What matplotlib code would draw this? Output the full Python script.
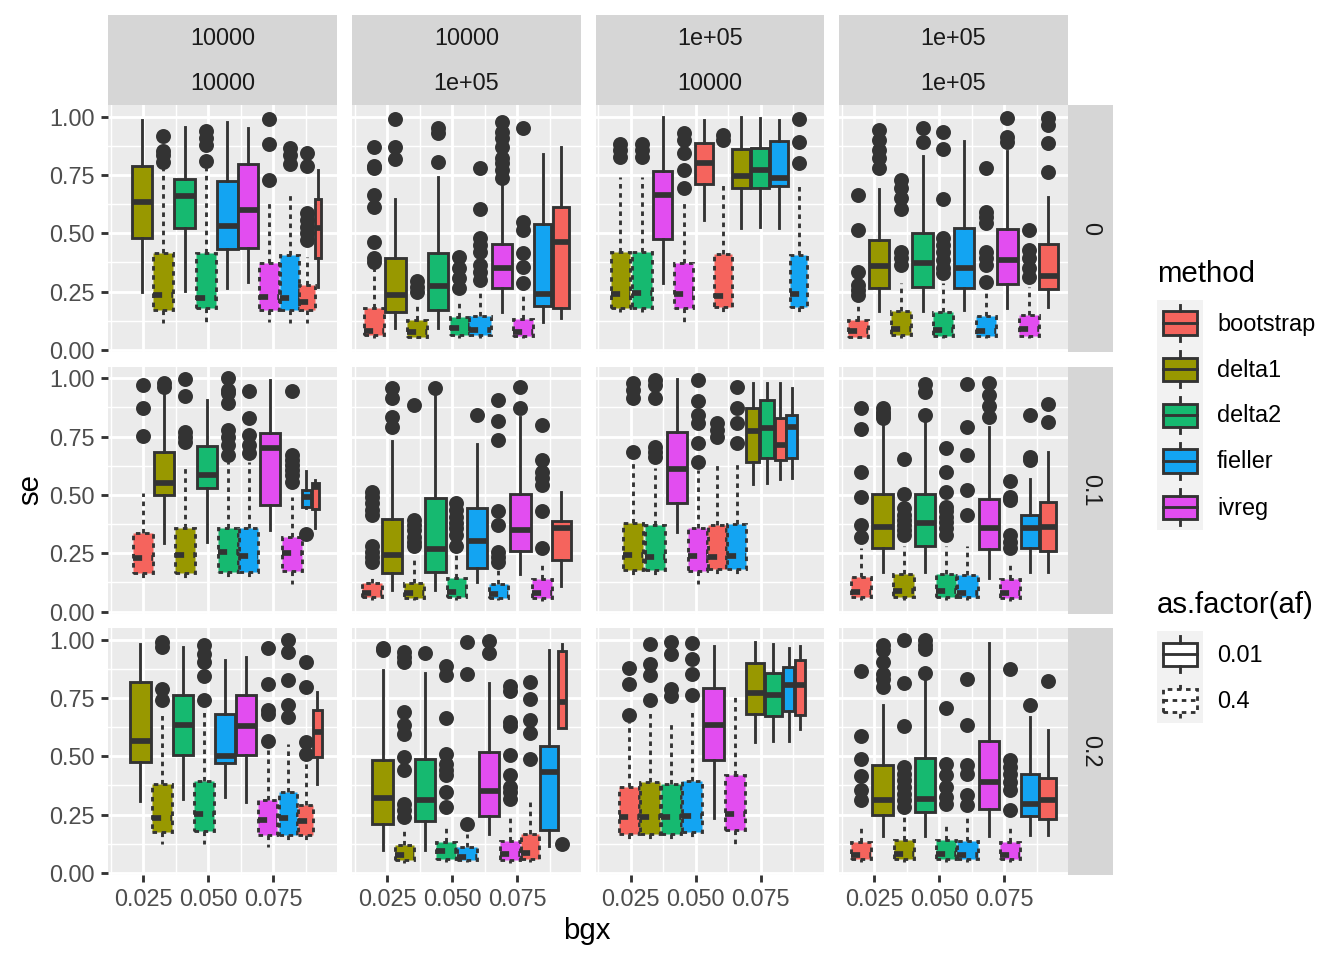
import matplotlib
matplotlib.use('Agg')
import matplotlib.pyplot as plt
from matplotlib.patches import Rectangle

plt.rcParams['font.family'] = ['Liberation Sans', 'DejaVu Sans']

# ---- data ----
methods = ['bootstrap', 'delta1', 'delta2', 'fieller', 'ivreg']
fills = ['#F5645D', '#989800', '#16B970', '#13A4F2', '#E24DF0']
af_labels = ['0.01', '0.4']
col_top = ['10000', '10000', '1e+05', '1e+05']
col_bottom = ['10000', '1e+05', '10000', '1e+05']
row_labels = ['0', '0.1', '0.2']
x_ticks = [0.025, 0.050, 0.075]
y_ticks = [0.0, 0.25, 0.50, 0.75, 1.00]

# one sub-list per panel (row-major), one entry per box
box_method = [
    [1, 1, 2, 2, 3, 4, 4, 3, 0, 0],
    [0, 1, 1, 2, 2, 3, 4, 4, 3, 0],
    [1, 2, 4, 4, 0, 0, 1, 2, 3, 3],
    [0, 1, 1, 2, 2, 3, 3, 4, 4, 0],
    [0, 1, 1, 2, 2, 3, 4, 4, 3, 0],
    [0, 1, 1, 2, 2, 3, 3, 4, 4, 0],
    [1, 2, 4, 4, 0, 3, 1, 2, 0, 3],
    [0, 1, 1, 2, 2, 3, 4, 4, 3, 0],
    [1, 1, 2, 2, 3, 4, 4, 3, 0, 0],
    [1, 1, 2, 2, 3, 4, 4, 0, 3, 0],
    [0, 1, 2, 3, 4, 4, 1, 2, 3, 0],
    [0, 1, 1, 2, 2, 3, 4, 4, 3, 0],
]
box_af = [
    [0, 1, 0, 1, 0, 0, 1, 1, 1, 0],
    [1, 0, 1, 0, 1, 1, 0, 1, 0, 0],
    [1, 1, 0, 1, 0, 1, 0, 0, 0, 1],
    [1, 0, 1, 0, 1, 0, 1, 0, 1, 0],
    [1, 0, 1, 0, 1, 1, 0, 1, 0, 0],
    [1, 0, 1, 0, 1, 0, 1, 0, 1, 0],
    [1, 1, 0, 1, 1, 1, 0, 0, 0, 0],
    [1, 0, 1, 0, 1, 1, 0, 1, 0, 0],
    [0, 1, 0, 1, 0, 0, 1, 1, 1, 0],
    [0, 1, 0, 1, 1, 0, 1, 1, 0, 0],
    [1, 1, 1, 1, 0, 1, 0, 0, 0, 0],
    [1, 0, 1, 0, 1, 1, 0, 1, 0, 0],
]
box_x = [
    [0.0245, 0.0327, 0.0409, 0.0491, 0.0573, 0.0654, 0.0735, 0.0813, 0.0880, 0.0922],
    [0.0199, 0.0281, 0.0364, 0.0445, 0.0527, 0.0607, 0.0691, 0.0772, 0.0848, 0.0918],
    [0.0210, 0.0291, 0.0373, 0.0454, 0.0531, 0.0605, 0.0674, 0.0747, 0.0821, 0.0896],
    [0.0188, 0.0269, 0.0353, 0.0435, 0.0515, 0.0596, 0.0679, 0.0762, 0.0844, 0.0920],
    [0.0247, 0.0330, 0.0410, 0.0494, 0.0577, 0.0655, 0.0738, 0.0821, 0.0878, 0.0912],
    [0.0190, 0.0269, 0.0353, 0.0435, 0.0515, 0.0596, 0.0678, 0.0762, 0.0844, 0.0920],
    [0.0260, 0.0343, 0.0426, 0.0508, 0.0583, 0.0657, 0.0719, 0.0774, 0.0826, 0.0870],
    [0.0199, 0.0281, 0.0362, 0.0445, 0.0526, 0.0607, 0.0691, 0.0772, 0.0848, 0.0918],
    [0.0238, 0.0321, 0.0403, 0.0485, 0.0565, 0.0647, 0.0729, 0.0807, 0.0875, 0.0920],
    [0.0233, 0.0315, 0.0396, 0.0478, 0.0558, 0.0642, 0.0724, 0.0800, 0.0872, 0.0923],
    [0.0244, 0.0323, 0.0405, 0.0486, 0.0569, 0.0651, 0.0728, 0.0799, 0.0857, 0.0900],
    [0.0199, 0.0281, 0.0364, 0.0445, 0.0526, 0.0607, 0.0691, 0.0772, 0.0848, 0.0917],
]
box_w = [
    [0.0079, 0.0077, 0.0079, 0.0077, 0.0079, 0.0077, 0.0077, 0.0071, 0.0060, 0.0023],
    [0.0077, 0.0079, 0.0079, 0.0079, 0.0074, 0.0081, 0.0079, 0.0077, 0.0068, 0.0062],
    [0.0073, 0.0077, 0.0074, 0.0074, 0.0067, 0.0067, 0.0067, 0.0071, 0.0071, 0.0068],
    [0.0077, 0.0077, 0.0077, 0.0079, 0.0077, 0.0077, 0.0077, 0.0079, 0.0077, 0.0071],
    [0.0077, 0.0078, 0.0077, 0.0077, 0.0077, 0.0074, 0.0079, 0.0077, 0.0033, 0.0028],
    [0.0077, 0.0077, 0.0077, 0.0079, 0.0073, 0.0077, 0.0074, 0.0079, 0.0077, 0.0071],
    [0.0077, 0.0078, 0.0077, 0.0074, 0.0069, 0.0071, 0.0049, 0.0054, 0.0041, 0.0042],
    [0.0077, 0.0079, 0.0078, 0.0079, 0.0077, 0.0081, 0.0079, 0.0077, 0.0068, 0.0062],
    [0.0079, 0.0077, 0.0079, 0.0077, 0.0079, 0.0077, 0.0074, 0.0071, 0.0058, 0.0032],
    [0.0081, 0.0074, 0.0079, 0.0077, 0.0077, 0.0079, 0.0077, 0.0067, 0.0071, 0.0031],
    [0.0077, 0.0077, 0.0079, 0.0079, 0.0079, 0.0077, 0.0071, 0.0068, 0.0042, 0.0038],
    [0.0077, 0.0079, 0.0079, 0.0079, 0.0077, 0.0081, 0.0079, 0.0077, 0.0068, 0.0064],
]
whis_lo = [
    [0.250, 0.114, 0.253, 0.114, 0.264, 0.290, 0.121, 0.114, 0.114, 0.271],
    [0.050, 0.093, 0.050, 0.093, 0.050, 0.050, 0.164, 0.050, 0.121, 0.136],
    [0.164, 0.164, 0.286, 0.114, 0.557, 0.164, 0.521, 0.529, 0.524, 0.164],
    [0.050, 0.167, 0.050, 0.167, 0.050, 0.171, 0.050, 0.179, 0.050, 0.186],
    [0.143, 0.293, 0.143, 0.297, 0.143, 0.143, 0.350, 0.119, 0.446, 0.357],
    [0.050, 0.093, 0.050, 0.093, 0.050, 0.126, 0.050, 0.160, 0.046, 0.111],
    [0.157, 0.157, 0.343, 0.119, 0.160, 0.157, 0.546, 0.550, 0.569, 0.571],
    [0.050, 0.169, 0.050, 0.169, 0.050, 0.050, 0.143, 0.046, 0.171, 0.171],
    [0.309, 0.123, 0.319, 0.126, 0.326, 0.304, 0.111, 0.140, 0.140, 0.383],
    [0.100, 0.043, 0.100, 0.047, 0.047, 0.166, 0.043, 0.047, 0.114, 0.623],
    [0.147, 0.147, 0.147, 0.147, 0.237, 0.119, 0.561, 0.566, 0.566, 0.619],
    [0.047, 0.157, 0.047, 0.157, 0.047, 0.047, 0.157, 0.047, 0.161, 0.161],
]
q1 = [
    [0.481, 0.171, 0.524, 0.179, 0.433, 0.436, 0.171, 0.171, 0.171, 0.393],
    [0.064, 0.164, 0.057, 0.171, 0.064, 0.064, 0.267, 0.061, 0.190, 0.181],
    [0.181, 0.181, 0.474, 0.179, 0.710, 0.183, 0.693, 0.693, 0.703, 0.183],
    [0.054, 0.264, 0.064, 0.271, 0.061, 0.264, 0.061, 0.283, 0.061, 0.260],
    [0.164, 0.500, 0.164, 0.529, 0.169, 0.169, 0.457, 0.174, 0.450, 0.440],
    [0.061, 0.164, 0.060, 0.169, 0.064, 0.186, 0.060, 0.260, 0.057, 0.221],
    [0.179, 0.179, 0.464, 0.176, 0.181, 0.181, 0.643, 0.660, 0.650, 0.660],
    [0.061, 0.274, 0.061, 0.279, 0.064, 0.061, 0.269, 0.057, 0.271, 0.261],
    [0.476, 0.176, 0.504, 0.180, 0.471, 0.507, 0.161, 0.161, 0.161, 0.497],
    [0.209, 0.054, 0.223, 0.061, 0.057, 0.243, 0.054, 0.061, 0.186, 0.623],
    [0.169, 0.169, 0.169, 0.176, 0.486, 0.183, 0.683, 0.671, 0.694, 0.679],
    [0.059, 0.250, 0.059, 0.261, 0.059, 0.059, 0.276, 0.059, 0.243, 0.233],
]
median = [
    [0.636, 0.236, 0.661, 0.224, 0.533, 0.600, 0.229, 0.221, 0.207, 0.521],
    [0.081, 0.236, 0.079, 0.274, 0.096, 0.086, 0.350, 0.079, 0.239, 0.464],
    [0.240, 0.243, 0.664, 0.239, 0.800, 0.233, 0.746, 0.771, 0.736, 0.240],
    [0.081, 0.361, 0.090, 0.371, 0.086, 0.350, 0.081, 0.386, 0.090, 0.319],
    [0.229, 0.550, 0.243, 0.586, 0.254, 0.239, 0.703, 0.250, 0.489, 0.536],
    [0.079, 0.243, 0.081, 0.267, 0.086, 0.303, 0.074, 0.350, 0.079, 0.357],
    [0.243, 0.236, 0.610, 0.239, 0.233, 0.239, 0.774, 0.786, 0.714, 0.793],
    [0.083, 0.361, 0.089, 0.379, 0.089, 0.081, 0.360, 0.081, 0.357, 0.364],
    [0.566, 0.236, 0.636, 0.251, 0.500, 0.629, 0.229, 0.236, 0.223, 0.604],
    [0.321, 0.076, 0.314, 0.093, 0.069, 0.351, 0.083, 0.086, 0.433, 0.733],
    [0.240, 0.240, 0.240, 0.244, 0.633, 0.254, 0.771, 0.761, 0.804, 0.804],
    [0.079, 0.311, 0.083, 0.319, 0.083, 0.076, 0.390, 0.076, 0.297, 0.314],
]
q3 = [
    [0.790, 0.417, 0.733, 0.417, 0.724, 0.797, 0.371, 0.407, 0.279, 0.647],
    [0.179, 0.396, 0.129, 0.417, 0.143, 0.147, 0.453, 0.133, 0.539, 0.614],
    [0.421, 0.421, 0.767, 0.371, 0.886, 0.411, 0.860, 0.864, 0.896, 0.407],
    [0.129, 0.471, 0.167, 0.503, 0.164, 0.521, 0.147, 0.519, 0.150, 0.453],
    [0.336, 0.683, 0.357, 0.710, 0.360, 0.360, 0.764, 0.321, 0.521, 0.550],
    [0.121, 0.397, 0.121, 0.486, 0.143, 0.443, 0.117, 0.504, 0.140, 0.389],
    [0.379, 0.371, 0.769, 0.357, 0.371, 0.374, 0.871, 0.907, 0.831, 0.843],
    [0.150, 0.503, 0.160, 0.504, 0.160, 0.157, 0.483, 0.140, 0.414, 0.469],
    [0.819, 0.380, 0.764, 0.394, 0.683, 0.764, 0.314, 0.347, 0.290, 0.700],
    [0.483, 0.119, 0.487, 0.133, 0.111, 0.519, 0.137, 0.169, 0.544, 0.951],
    [0.369, 0.390, 0.383, 0.394, 0.793, 0.419, 0.901, 0.857, 0.883, 0.914],
    [0.133, 0.464, 0.140, 0.493, 0.140, 0.137, 0.566, 0.133, 0.426, 0.407],
]
whis_hi = [
    [0.986, 0.779, 0.957, 0.779, 0.979, 0.950, 0.636, 0.664, 0.400, 0.771],
    [0.350, 0.647, 0.207, 0.743, 0.200, 0.250, 0.707, 0.250, 0.839, 0.871],
    [0.743, 0.743, 1.000, 0.643, 0.986, 0.714, 1.000, 0.996, 0.986, 0.721],
    [0.200, 0.690, 0.286, 0.833, 0.286, 0.896, 0.264, 0.853, 0.271, 0.657],
    [0.507, 0.950, 0.629, 0.907, 0.643, 0.643, 0.993, 0.493, 0.603, 0.564],
    [0.143, 0.731, 0.229, 0.955, 0.257, 0.717, 0.193, 0.836, 0.214, 0.514],
    [0.650, 0.614, 0.997, 0.607, 0.640, 0.640, 0.979, 0.979, 0.979, 0.957],
    [0.271, 0.814, 0.279, 0.814, 0.279, 0.279, 0.793, 0.214, 0.569, 0.686],
    [0.983, 0.680, 0.969, 0.704, 0.911, 0.926, 0.526, 0.551, 0.490, 0.776],
    [0.869, 0.197, 0.857, 0.204, 0.169, 0.814, 0.247, 0.319, 0.957, 0.980],
    [0.647, 0.690, 0.647, 0.690, 0.971, 0.771, 0.990, 0.980, 0.966, 0.971],
    [0.204, 0.719, 0.254, 0.826, 0.211, 0.240, 0.986, 0.204, 0.669, 0.611],
]
outliers = [
    [[], [0.919, 0.853, 0.836, 0.804], [], [0.939, 0.907, 0.879, 0.81], [], [],
     [0.99, 0.881, 0.729], [0.864, 0.836, 0.796],
     [0.843, 0.789, 0.586, 0.557, 0.529, 0.5, 0.471], []],
    [[0.871, 0.79, 0.781, 0.664, 0.614, 0.464, 0.393, 0.379], [0.99, 0.871, 0.819],
     [0.296, 0.271, 0.247], [0.953, 0.929, 0.807], [0.4, 0.35, 0.307, 0.264],
     [0.781, 0.604, 0.479, 0.45, 0.421, 0.364, 0.336, 0.3],
     [0.979, 0.936, 0.907, 0.871, 0.821, 0.8, 0.771, 0.736],
     [0.953, 0.55, 0.514, 0.414, 0.357, 0.286], [], []],
    [[0.881, 0.857, 0.829], [0.881, 0.857, 0.829], [], [0.929, 0.9, 0.843, 0.771, 0.693],
     [], [0.921, 0.9], [], [], [], [0.99, 0.893, 0.8]],
    [[0.664, 0.514, 0.336, 0.279, 0.257, 0.236], [0.943, 0.9, 0.857, 0.821, 0.779],
     [0.729, 0.693, 0.65, 0.604, 0.421, 0.393, 0.364], [0.95, 0.893],
     [0.933, 0.86, 0.647, 0.479, 0.45, 0.421, 0.386, 0.35, 0.329], [],
     [0.779, 0.593, 0.571, 0.543, 0.421, 0.393, 0.364, 0.293], [0.993, 0.914, 0.893],
     [0.514, 0.429, 0.393, 0.35, 0.314], [0.993, 0.964, 0.886, 0.764]],
    [[0.971, 0.874, 0.753], [0.979, 0.964], [0.997, 0.926, 0.771, 0.75, 0.726], [],
     [1.0, 0.95, 0.936, 0.893, 0.779, 0.75, 0.714, 0.671],
     [0.946, 0.829, 0.757, 0.714, 0.679], [],
     [0.946, 0.671, 0.65, 0.629, 0.607, 0.586, 0.557], [0.331], []],
    [[0.514, 0.493, 0.464, 0.436, 0.414, 0.279, 0.257, 0.236, 0.214],
     [0.96, 0.914, 0.836, 0.793], [0.886, 0.393, 0.371, 0.35, 0.321, 0.3, 0.279], [0.96],
     [0.464, 0.436, 0.407, 0.379, 0.357, 0.329, 0.279], [0.843],
     [0.907, 0.817, 0.736, 0.433, 0.371, 0.257, 0.236, 0.214], [0.964, 0.871],
     [0.8, 0.65, 0.6, 0.571, 0.543, 0.433, 0.271], []],
    [[0.979, 0.95, 0.914, 0.683], [0.993, 0.971, 0.914, 0.707, 0.686, 0.664], [],
     [0.993, 0.903, 0.843, 0.807, 0.721, 0.643], [0.807, 0.779, 0.75],
     [0.964, 0.874, 0.81, 0.721], [], [], [], []],
    [[0.874, 0.783, 0.6, 0.49, 0.369, 0.321], [0.871, 0.857, 0.843, 0.829],
     [0.654, 0.504, 0.443, 0.414, 0.393, 0.371, 0.35, 0.329], [0.974, 0.943, 0.843],
     [0.703, 0.597, 0.514, 0.45, 0.429, 0.407, 0.386, 0.357, 0.329],
     [0.974, 0.789, 0.671, 0.521, 0.414], [0.979, 0.929, 0.879, 0.836],
     [0.56, 0.493, 0.479, 0.329, 0.3, 0.274], [0.843, 0.664, 0.65], [0.889, 0.814]],
    [[], [0.99, 0.969, 0.79, 0.74], [], [0.976, 0.94, 0.904, 0.843, 0.74], [], [],
     [0.966, 0.809, 0.7, 0.68, 0.566], [0.997, 0.947, 0.826, 0.719, 0.669],
     [0.904, 0.797, 0.561, 0.511], []],
    [[0.966, 0.954], [0.947, 0.926, 0.904, 0.69, 0.633, 0.597, 0.497, 0.44, 0.297, 0.269, 0.24],
     [0.943], [0.886, 0.847, 0.666, 0.511, 0.469, 0.44, 0.419, 0.347, 0.283],
     [0.99, 0.851, 0.211], [0.994, 0.943],
     [0.8, 0.78, 0.647, 0.629, 0.504, 0.419, 0.369, 0.347, 0.319],
     [0.819, 0.747, 0.657, 0.6, 0.49], [], [0.126]],
    [[0.88, 0.809, 0.679], [0.98, 0.894, 0.847, 0.743], [0.99, 0.937, 0.79, 0.757],
     [0.986, 0.919, 0.851, 0.761], [], [], [], [], [], []],
    [[0.866, 0.586, 0.487, 0.416, 0.354, 0.311], [0.976, 0.957, 0.904, 0.854, 0.833, 0.797],
     [0.997, 0.816, 0.629, 0.454, 0.426, 0.397, 0.369, 0.34, 0.311, 0.283],
     [0.997, 0.976, 0.961, 0.859], [0.709, 0.466, 0.419, 0.369, 0.326, 0.297],
     [0.833, 0.636, 0.461, 0.426, 0.333, 0.29], [],
     [0.873, 0.483, 0.454, 0.426, 0.39, 0.354, 0.269], [0.719], [0.823]],
]

# ---- styling ----
W, H = 1344, 960
LW = 1.07
EDGE = '#333333'
DASH = (0, (1.6, 1.6))
af_styles = ['solid', DASH]

fig = plt.figure(figsize=(7, 5), dpi=192)
fig.patch.set_facecolor('white')


def px_axes(x0, y0, w, h):
    return fig.add_axes([x0 / W, 1 - (y0 + h) / H, w / W, h / H])


col_left = [108.3, 352.2, 595.8, 839.4]
row_top = [105.0, 366.6, 628.0]
pw, ph = 228.3, 247.2
strip_h = 45.0

for r in range(3):
    for c in range(4):
        p = r * 4 + c
        ax = px_axes(col_left[c], row_top[r], pw, ph)
        ax.set_facecolor('#EBEBEB')
        for s in ax.spines.values():
            s.set_visible(False)
        ax.set_axisbelow(True)
        for i in range(len(box_x[p])):
            m = box_method[p][i]
            ls = af_styles[box_af[p][i]]
            st = [dict(med=median[p][i], q1=q1[p][i], q3=q3[p][i],
                       whislo=whis_lo[p][i], whishi=whis_hi[p][i],
                       fliers=outliers[p][i])]
            ax.bxp(st, positions=[box_x[p][i]], widths=[box_w[p][i]],
                   patch_artist=True, showcaps=False, manage_ticks=False,
                   boxprops=dict(facecolor=fills[m], edgecolor=EDGE, linewidth=LW, linestyle=ls),
                   whiskerprops=dict(color=EDGE, linewidth=LW, linestyle=ls),
                   medianprops=dict(color=EDGE, linewidth=2 * LW, linestyle=ls),
                   flierprops=dict(marker='o', markerfacecolor=EDGE, markeredgecolor=EDGE,
                                   markersize=4.6, linestyle='none'))
        ax.set_xlim(0.0115, 0.0994)
        ax.set_ylim(-0.0095, 1.05)
        ax.set_xticks(x_ticks)
        ax.set_xticks([0.0125, 0.0375, 0.0625, 0.0875], minor=True)
        ax.set_yticks(y_ticks)
        ax.set_yticks([0.125, 0.375, 0.625, 0.875], minor=True)
        ax.set_xticklabels(['%.3f' % v for v in x_ticks])
        ax.set_yticklabels(['%.2f' % v for v in y_ticks])
        ax.grid(which='major', color='white', linewidth=LW)
        ax.grid(which='minor', color='white', linewidth=LW / 2)
        ax.tick_params(which='minor', length=0)
        ax.tick_params(which='major', length=2.75, width=LW, color=EDGE,
                       labelsize=8.8, labelcolor='#4D4D4D', pad=2.2)
        if r < 2:
            ax.tick_params(axis='x', length=0, labelbottom=False)
        if c > 0:
            ax.tick_params(axis='y', length=0, labelleft=False)

        # strips
        if r == 0:
            for k, lab in enumerate([col_top[c], col_bottom[c]]):
                sa = px_axes(col_left[c], row_top[0] - strip_h * (2 - k), pw, strip_h)
                sa.set_facecolor('#D6D6D6')
                sa.set_xticks([])
                sa.set_yticks([])
                for s in sa.spines.values():
                    s.set_visible(False)
                sa.text(0.5, 0.47, lab, ha='center', va='center', fontsize=8.8,
                        color='#1A1A1A', transform=sa.transAxes)
        if c == 3:
            sa = px_axes(col_left[3] + pw, row_top[r], strip_h, ph)
            sa.set_facecolor('#D6D6D6')
            sa.set_xticks([])
            sa.set_yticks([])
            for s in sa.spines.values():
                s.set_visible(False)
            sa.text(0.5, 0.5, row_labels[r], ha='center', va='center', fontsize=8.8,
                    color='#1A1A1A', rotation=-90, transform=sa.transAxes)

# axis titles
fig.text(30 / W, 1 - 490 / H, 'se', rotation=90, ha='center', va='center', fontsize=11)
fig.text(587 / W, 1 - 931 / H, 'bgx', ha='center', va='center', fontsize=11)


# ---- legends ----
def legend_key(y_top, fill, ls):
    ka = px_axes(1157, y_top, 46, 46)
    ka.set_xlim(0, 1)
    ka.set_ylim(0, 1)
    ka.set_facecolor('#F2F2F2')
    ka.set_xticks([])
    ka.set_yticks([])
    for s in ka.spines.values():
        s.set_visible(False)
    ka.plot([0.5, 0.5], [0.1, 0.25], color=EDGE, lw=LW, ls=ls)
    ka.plot([0.5, 0.5], [0.75, 0.9], color=EDGE, lw=LW, ls=ls)
    ka.add_patch(Rectangle((0.125, 0.25), 0.75, 0.5, facecolor=fill, edgecolor=EDGE,
                           lw=LW, ls=ls))
    ka.plot([0.125, 0.875], [0.5, 0.5], color=EDGE, lw=LW, ls=ls)


fig.text(1157 / W, 1 - 274 / H, 'method', ha='left', va='center', fontsize=11)
for k, name in enumerate(methods):
    yt = 300 + 46 * k
    legend_key(yt, fills[k], 'solid')
    fig.text(1217 / W, 1 - (yt + 24) / H, name, ha='left', va='center', fontsize=8.8)

fig.text(1157 / W, 1 - 605 / H, 'as.factor(af)', ha='left', va='center', fontsize=11)
for k, name in enumerate(af_labels):
    yt = 631 + 46 * k
    legend_key(yt, 'white', af_styles[k])
    fig.text(1217 / W, 1 - (yt + 24) / H, name, ha='left', va='center', fontsize=8.8)

fig.savefig('out.png', dpi=192)
